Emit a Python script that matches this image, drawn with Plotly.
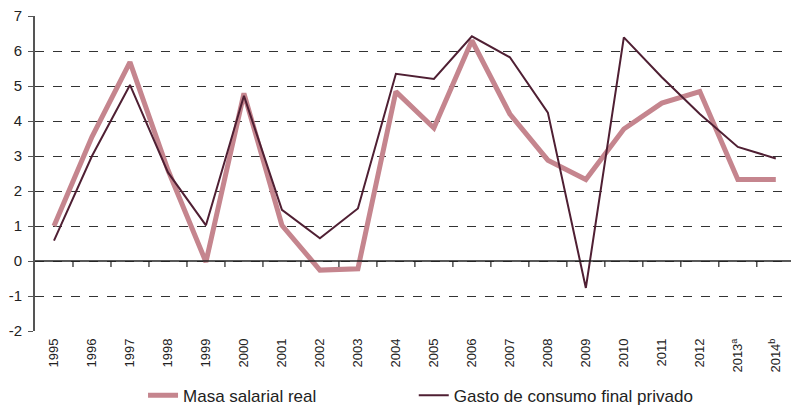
import plotly.graph_objects as go

years = ["1995", "1996", "1997", "1998", "1999", "2000", "2001", "2002", "2003", "2004",
         "2005", "2006", "2007", "2008", "2009", "2010", "2011", "2012",
         "2013<sup>a</sup>", "2014<sup>b</sup>"]
masa_salarial = [1.0, 3.55, 5.68, 2.6, -0.03, 4.79, 1.02, -0.26, -0.22, 4.84,
                 3.8, 6.3, 4.2, 2.88, 2.33, 3.77, 4.51, 4.84, 2.33, 2.33]
gasto_consumo = [0.58, 3.0, 5.03, 2.53, 1.02, 4.72, 1.46, 0.65, 1.5, 5.35,
                 5.2, 6.42, 5.82, 4.24, -0.77, 6.39, 5.25, 4.2, 3.26, 2.93]
y_ticks = [-2, -1, 0, 1, 2, 3, 4, 5, 6, 7]

x = list(range(len(years)))

fig = go.Figure()
fig.add_trace(go.Scatter(x=x, y=masa_salarial, mode="lines", name="Masa salarial real",
                         line=dict(color="#C5858E", width=5), legend="legend"))
fig.add_trace(go.Scatter(x=x, y=gasto_consumo, mode="lines", name="Gasto de consumo final privado",
                         line=dict(color="#4F1F33", width=2), legend="legend2"))

shapes = []
# zero line
shapes.append(dict(type="line", xref="paper", yref="y", x0=0, x1=1, y0=0, y1=0,
                   line=dict(color="#222222", width=1.5), layer="above"))
# tick marks between categories on the zero line
for i in range(len(years)):
    shapes.append(dict(type="line", xref="x", yref="y", ysizemode="pixel", yanchor=0,
                       x0=i + 0.5, x1=i + 0.5, y0=0, y1=-6,
                       line=dict(color="#222222", width=1.2)))

legend_common = dict(orientation="h", y=-0.2625, yanchor="bottom",
                     font=dict(size=17, color="#222222"), bgcolor="rgba(0,0,0,0)")

fig.update_layout(
    width=791, height=406,
    margin=dict(l=35, r=0, t=16, b=75, autoexpand=False),
    paper_bgcolor="white", plot_bgcolor="white",
    font=dict(family="Liberation Sans, Arial, sans-serif", color="#222222"),
    showlegend=True,
    legend=dict(x=0.1429, xanchor="left", **legend_common),
    legend2=dict(x=0.501, xanchor="left", **legend_common),
    shapes=shapes,
    xaxis=dict(range=[-0.5, 19.4], tickmode="array", tickvals=x, ticktext=years,
               tickangle=-90, showgrid=False, zeroline=False, showline=False,
               ticks="", tickfont=dict(size=13, color="#222222"), fixedrange=True,
               automargin=False, ticklabeloverflow="allow", ticklabelstandoff=4),
    yaxis=dict(range=[-2, 7], tickmode="array", tickvals=y_ticks,
               ticktext=[str(v) for v in y_ticks],
               showgrid=True, gridcolor="#333333", griddash="dash", gridwidth=1,
               zeroline=False, showline=True, linecolor="#555555", linewidth=2,
               ticks="outside", ticklen=5, tickcolor="#555555", automargin=False,
               ticklabelstandoff=3, ticklabeloverflow="allow",
               tickfont=dict(size=15, color="#222222")),
)

fig.write_html("out.html", config={"displayModeBar": False},
               post_script="document.body.style.margin='0';")
